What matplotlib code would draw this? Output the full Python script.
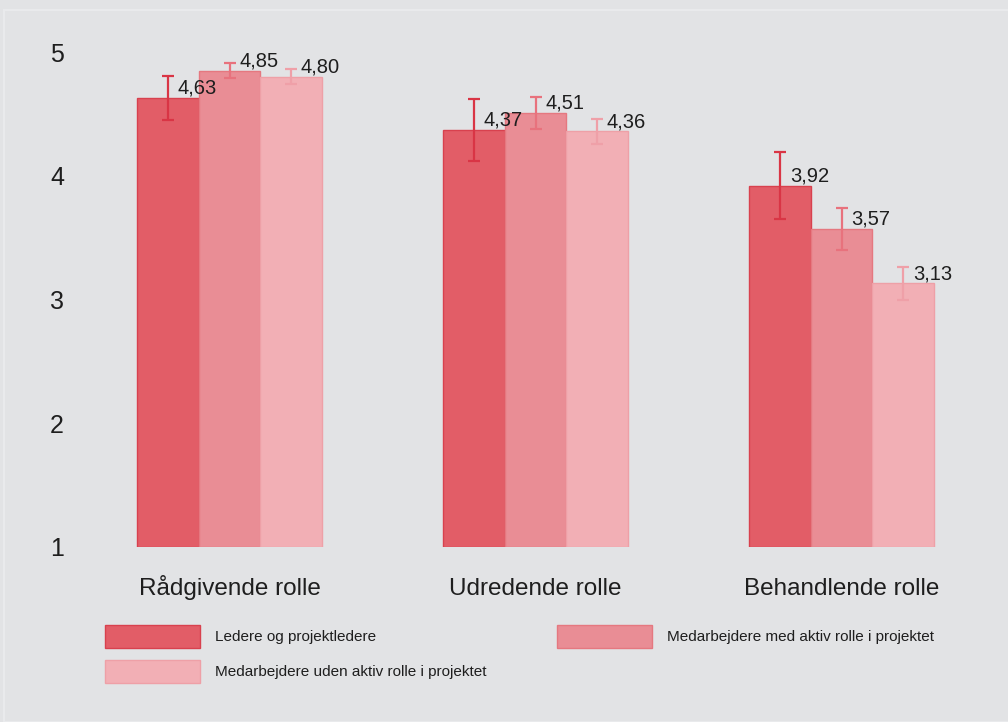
import numpy as np
import matplotlib
matplotlib.use("Agg")
import matplotlib.pyplot as plt
from matplotlib.patches import Patch, Rectangle

plt.rcParams['font.family'] = ['Liberation Sans', 'DejaVu Sans']

### Data
categories = ["Rådgivende rolle", "Udredende rolle", "Behandlende rolle"]
series_names = ["Ledere og projektledere",
                "Medarbejdere med aktiv rolle i projektet",
                "Medarbejdere uden aktiv rolle i projektet"]
ledere = [4.63, 4.37, 3.92]
med_aktiv = [4.85, 4.51, 3.57]
uden_aktiv = [4.80, 4.36, 3.13]
err_ledere = [0.18, 0.25, 0.27]
err_med_aktiv = [0.06, 0.13, 0.17]
err_uden_aktiv = [0.06, 0.10, 0.13]
yticks = [1, 2, 3, 4, 5]

values = [ledere, med_aktiv, uden_aktiv]
errors = [err_ledere, err_med_aktiv, err_uden_aktiv]
fills = ["#e25d67", "#e98d95", "#f2afb5"]
edges = ["#d8414e", "#e57880", "#eea0a7"]
errcols = ["#d93545", "#e8727d", "#efa0a8"]

bg = "#e2e3e5"
W, H = 1008, 722
fig = plt.figure(figsize=(W / 100, H / 100), dpi=100, facecolor=bg)
fig.patches.append(Rectangle((4 / W, 0), 1.2, 1 - 10 / H, transform=fig.transFigure,
                             fill=False, edgecolor="#e9eaec", linewidth=1.5))

# axes in pixel layout
left, right, bottom, top = 100, 960, 547, 30
ax = fig.add_axes([left / W, 1 - bottom / H, (right - left) / W, (bottom - top) / H])
ax.set_facecolor(bg)

x = np.arange(len(categories))
width = 0.201
px_per_unit = 306.0
ax.set_xlim(-(229.5 - left) / px_per_unit, 2 + (right - 841.5) / px_per_unit)
ax.set_ylim(1, 1 + (bottom - top) / 123.75)

for i in range(3):
    xs = x + (i - 1) * width
    ax.bar(xs, np.array(values[i]) - 1, width, bottom=1, color=fills[i],
           edgecolor=edges[i], linewidth=1)
    ax.errorbar(xs, values[i], yerr=errors[i], fmt="none", ecolor=errcols[i],
                elinewidth=1.6, capsize=4.6, capthick=1.6)
    for xi, v in zip(xs, values[i]):
        ax.annotate(f"{v:.2f}".replace(".", ","), (xi, v), xytext=(7, 3),
                    textcoords="offset points", ha="left", va="baseline",
                    fontsize=14.5, color="#1e1e1e")

for s in ax.spines.values():
    s.set_visible(False)
ax.set_yticks(yticks)
ax.set_yticklabels([str(t) for t in yticks])
ax.set_xticks(x)
ax.set_xticklabels(categories, va="baseline")
ax.tick_params(axis="y", length=0, pad=26, labelsize=18, labelcolor="#1e1e1e")
ax.tick_params(axis="x", length=0, pad=34.5, labelsize=17.5, labelcolor="#1e1e1e")

handles = [Patch(facecolor=fills[0], edgecolor=edges[0]),
           Patch(facecolor=fills[2], edgecolor=edges[2]),
           Patch(facecolor=fills[1], edgecolor=edges[1])]
labels = [series_names[0], series_names[2], series_names[1]]
fig.legend(handles, labels, loc="upper left", bbox_to_anchor=(105 / W, 1 - 625 / H),
           ncol=2, frameon=False, fontsize=11, borderpad=0, borderaxespad=0,
           handlelength=6.2, handleheight=1.93, handletextpad=1.0,
           labelspacing=0.78, columnspacing=4.6, labelcolor="#1e1e1e")

fig.savefig("out.png", dpi=100, facecolor=bg)
